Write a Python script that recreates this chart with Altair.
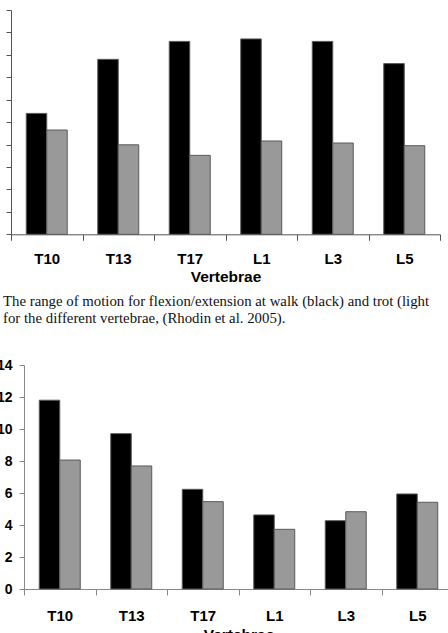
import altair as alt
import pandas as pd

# Vertebral levels and gaits
vertebrae = ["T10", "T13", "T17", "L1", "L3", "L5"]
gaits = ["walk", "trot"]

# Range of motion, flexion/extension (upper panel)
flex_walk = [5.39, 7.80, 8.60, 8.71, 8.60, 7.61]
flex_trot = [4.65, 3.99, 3.52, 4.16, 4.07, 3.95]

# Range of motion, lower panel
lower_walk = [11.8, 9.71, 6.23, 4.63, 4.27, 5.94]
lower_trot = [8.06, 7.69, 5.46, 3.73, 4.83, 5.42]

upper_ticks = list(range(0, 11))
lower_ticks = list(range(0, 15, 2))

caption_lines = [
    "The range of motion for flexion/extension at walk (black) and trot (light",
    "for the different vertebrae, (Rhodin et al. 2005).",
]

W, H = 448, 633
SANS = "Liberation Sans"
SERIF = "Liberation Serif"


def long_table(walk, trot):
    rows = []
    for v, w, t in zip(vertebrae, walk, trot):
        rows.append({"vertebra": v, "gait": "walk", "value": w})
        rows.append({"vertebra": v, "gait": "trot", "value": t})
    return pd.DataFrame(rows)


upper_df = long_table(flex_walk, flex_trot)
lower_df = long_table(lower_walk, lower_trot)

gait_colors = alt.Scale(domain=gaits, range=["#000000", "#999999"])
pair_offset = alt.Scale(domain=gaits, range=[0, 71.5], paddingInner=0, paddingOuter=0.744)


def bar_panel(df, x_range, y_range, y_max, y_ticks, x_axis_y, y_axis_x,
              axis_color, show_y_labels, label_pad, title_y):
    return alt.Chart(df).mark_bar(stroke="#5a5a5a", strokeWidth=1).encode(
        x=alt.X(
            "vertebra:N",
            sort=vertebrae,
            scale=alt.Scale(range=x_range, paddingInner=0, paddingOuter=0),
            axis=alt.Axis(
                orient="bottom",
                offset=x_axis_y - H,
                title="Vertebrae",
                titleFont=SANS,
                titleFontSize=15.5,
                titleFontWeight="bold",
                titleColor="#000000",
                titleY=title_y,
                labelAngle=0,
                labelFont=SANS,
                labelFontSize=15,
                labelFontWeight="bold",
                labelColor="#000000",
                labelPadding=label_pad,
                tickBand="extent",
                tickSize=6,
                tickColor=axis_color,
                domainColor=axis_color,
                grid=False,
            ),
        ),
        xOffset=alt.XOffset("gait:N", sort=gaits, scale=pair_offset),
        y=alt.Y(
            "value:Q",
            scale=alt.Scale(domain=[0, y_max], range=y_range, nice=False, zero=True),
            axis=alt.Axis(
                orient="left",
                offset=-y_axis_x,
                values=y_ticks,
                title=None,
                labels=show_y_labels,
                labelFont=SANS,
                labelFontSize=14,
                labelFontWeight="bold",
                labelColor="#000000",
                labelPadding=7,
                tickSize=5,
                tickColor=axis_color,
                domainColor=axis_color,
                grid=False,
            ),
        ),
        color=alt.Color("gait:N", scale=gait_colors, legend=None),
    )


upper = bar_panel(upper_df, [11, 440], [234.3, 10], 10, upper_ticks,
                  234.3, 11, "#555555", False, 11, 35)
lower = bar_panel(lower_df, [24, 453], [589, 365], 14, lower_ticks,
                  589, 24, "#888888", True, 13, 38)

caption_layers = [
    alt.Chart(pd.DataFrame({"line": [text]})).mark_text(
        font=SERIF, fontSize=14.8, align="left", baseline="alphabetic", color="#111111"
    ).encode(x=alt.value(3), y=alt.value(y), text="line:N")
    for text, y in zip(caption_lines, [305.7, 323.3])
]

chart = alt.layer(upper, lower, *caption_layers).resolve_scale(
    x="independent", y="independent"
).properties(
    width=W, height=H, padding=0, autosize=alt.AutoSizeParams(type="none"),
    background="#ffffff",
).configure_view(stroke=None)

chart.save("out.html", embed_options={"renderer": "svg", "actions": False})
